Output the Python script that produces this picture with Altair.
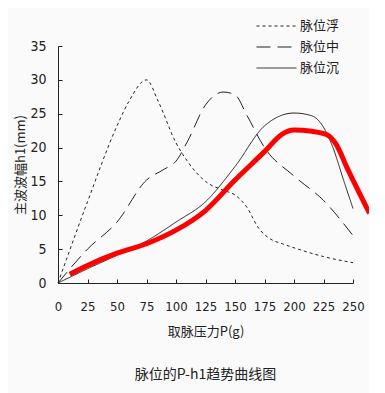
import altair as alt
import pandas as pd

FONT = "Noto Sans CJK SC"
NUM_FONT = "'Liberation Sans Narrow', 'DejaVu Sans Condensed', Roboto"

# x ticks / labels
P_TICKS = [0, 25, 50, 75, 100, 125, 150, 175, 200, 225, 250]
H_TICKS = [0, 5, 10, 15, 20, 25, 30, 35]

SERIES = ["脉位浮", "脉位中", "脉位沉"]

# 脉位浮 (dotted)
P_FU = [0, 25, 50, 60, 75, 85, 100, 110, 125, 140, 150, 160, 170, 180, 190, 200, 225, 250]
H_FU = [0, 12, 23.2, 26.8, 30, 26.8, 20.7, 17.9, 15, 13.7, 13, 11.2, 8.1, 6.5, 5.8, 5.2, 3.9, 3.0]

# 脉位中 (dashed)
P_ZHONG = [0, 25, 50, 75, 90, 100, 110, 125, 140, 150, 160, 175, 200, 225, 250]
H_ZHONG = [0, 5, 9, 15.2, 16.8, 18, 21, 26.3, 28.2, 27.8, 24.8, 20, 15.8, 12.2, 7]

# 脉位沉 (solid)
P_CHEN = [0, 25, 50, 75, 100, 125, 150, 175, 200, 215, 225, 233, 242, 250]
H_CHEN = [0, 2.1, 4.1, 6.2, 9, 12, 17.2, 23.2, 25.1, 24.7, 23, 20, 15.2, 11]

# red thick curve
P_RED = [10, 25, 50, 75, 100, 125, 150, 175, 190, 200, 215, 228, 236, 245, 264]
H_RED = [1.3, 2.6, 4.4, 5.8, 7.8, 10.7, 15.2, 19.4, 22.0, 22.6, 22.4, 21.9, 20.4, 17, 10.3]

rows = []
for name, ps, hs in [(SERIES[0], P_FU, H_FU), (SERIES[1], P_ZHONG, H_ZHONG), (SERIES[2], P_CHEN, H_CHEN)]:
    for p, h in zip(ps, hs):
        rows.append({"series": name, "P": p, "h": h})
df = pd.DataFrame(rows)
df_red = pd.DataFrame({"P": P_RED, "h": H_RED})

xscale = alt.Scale(domain=[0, 250], nice=False, zero=False)
yscale = alt.Scale(domain=[0, 35], nice=False)

lines = alt.Chart(df).mark_line(interpolate="monotone", color="#222222", strokeWidth=1).encode(
    x=alt.X("P:Q", scale=xscale, axis=alt.Axis(
        values=P_TICKS, title="取脉压力P(g)", ticks=False, tickSize=0, labelPadding=17,
        labelOverlap=False, labelFlush=False, domainColor="#222222", labelColor="#222222",
        labelFontSize=13, labelFont=NUM_FONT, titleFont=FONT, titleFontSize=13,
        titleFontWeight="normal", titleColor="#222222", titlePadding=12, grid=False)),
    y=alt.Y("h:Q", scale=yscale, axis=alt.Axis(
        values=H_TICKS, title="主波波幅h1(mm)", ticks=False, tickSize=0, labelPadding=12,
        labelOverlap=False, labelFlush=False, domainColor="#222222", labelColor="#222222",
        labelFontSize=14, labelFont=NUM_FONT, titleFont=FONT, titleFontSize=13,
        titleFontWeight="normal", titleColor="#222222", titlePadding=2, grid=False)),
    strokeDash=alt.StrokeDash("series:N", scale=alt.Scale(domain=SERIES, range=[[3, 3], [14, 7], [1, 0]]),
                              legend=alt.Legend(title=None, orient="none", legendX=198, legendY=-28,
                                                symbolType="stroke", symbolSize=1600, symbolStrokeWidth=1,
                                                symbolStrokeColor="#222222", labelFont=FONT, labelFontSize=13,
                                                labelColor="#222222", clipHeight=16, rowPadding=5,
                                                labelOffset=3)),
)

red = alt.Chart(df_red).mark_line(interpolate="monotone", color="#FF0000", strokeWidth=5).encode(
    x=alt.X("P:Q", scale=xscale, axis=None),
    y=alt.Y("h:Q", scale=yscale, axis=None),
)

ticks = alt.Chart(df_red).mark_point(opacity=0).encode(
    x=alt.X("P:Q", scale=xscale, axis=alt.Axis(orient="top", offset=-237, values=P_TICKS, labels=False,
                                               domain=False, ticks=True, tickSize=4, tickColor="#222222",
                                               title="", grid=False)),
    y=alt.Y("h:Q", scale=yscale, axis=alt.Axis(orient="right", offset=-295, values=H_TICKS, labels=False,
                                               domain=False, ticks=True, tickSize=4, tickColor="#222222",
                                               title="", grid=False)),
)

chart = alt.layer(lines, ticks, red).resolve_axis(x="independent", y="independent").properties(
    width=295, height=237,
    autosize=alt.AutoSizeParams(type="none"),
    padding={"left": 50, "top": 38, "right": 16, "bottom": 110},
    title=alt.TitleParams("脉位的P-h1趋势曲线图", orient="bottom", offset=30, fontSize=14,
                          fontWeight="normal", font=FONT, color="#222222"),
    background="#FAFAFA",
).configure_view(stroke=None)

chart.save("out.html", embed_options={"renderer": "svg", "actions": False})
